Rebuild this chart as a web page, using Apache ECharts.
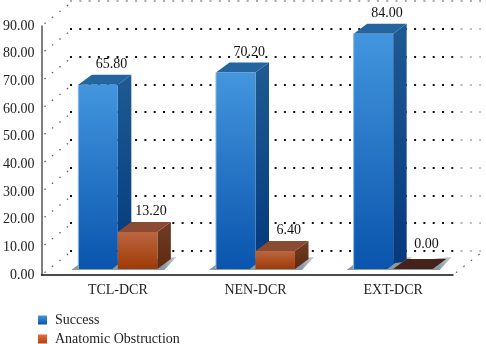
<!DOCTYPE html>
<html>
<head>
<meta charset="utf-8">
<style>html,body{margin:0;padding:0;background:#fff}#c{width:486px;height:344px}</style>
<script src="https://cdn.jsdelivr.net/npm/echarts@6/dist/echarts.min.js"></script>
</head>
<body>
<div id="c"></div>
<script>
const categories = ['TCL-DCR', 'NEN-DCR', 'EXT-DCR'];
const successValues = [65.8, 70.2, 84.0];
const obstructionValues = [13.2, 6.4, 0.0];
const yTicks = [0, 10, 20, 30, 40, 50, 60, 70, 80, 90];

const FONT = '"Liberation Serif", serif';
const grad = (a, b) => new echarts.graphic.LinearGradient(0, 0, 0, 1, [{offset: 0, color: a}, {offset: 1, color: b}]);
const BAR_FRAC = 39.5 / 137.6, DX = 13.5, DY = 10;

const blue = {front: ['#4396de', '#0a54ad'], side: ['#1f5a92', '#04397c'], top: '#24649f', edge: '#8fb8e0'};
const orange = {front: ['#bb6640', '#9f3a06'], side: ['#6f3c26', '#5f2a10'], top: '#8a4b32', edge: null};

function barRenderer(slot, pal) {
  return function (params, api) {
    const val = api.value(1);
    const c = api.coord([api.value(0), val]);
    const base = api.coord([api.value(0), 0]);
    const w = api.size([1, 0])[0] * BAR_FRAC;
    const x0 = c[0] + slot * w, x1 = x0 + w, yt = c[1], yb = base[1];
    const kids = [];
    kids.push({type: 'polygon', shape: {points: [[x0 - 7, yb + 1], [x0 + 2, yb - 6], [x1 + 19, yb - 12], [x1 + 7, yb + 1]]},
      style: {fill: new echarts.graphic.LinearGradient(0, 0, 1, 0, [{offset: 0, color: '#8b98a6'}, {offset: 0.8, color: '#8b98a6'}, {offset: 1, color: '#c9d0d8'}])}});
    if (val > 0) {
      kids.push({type: 'polygon', shape: {points: [[x1, yt], [x1 + DX, yt - DY], [x1 + DX, yb - DY], [x1, yb]]}, style: {fill: grad(pal.side[0], pal.side[1])}});
      kids.push({type: 'polygon', shape: {points: [[x0, yt], [x0 + DX, yt - DY], [x1 + DX, yt - DY], [x1, yt]]}, style: {fill: pal.top}});
      kids.push({type: 'rect', shape: {x: x0, y: yt, width: w, height: yb - yt}, style: {fill: grad(pal.front[0], pal.front[1])}});
      if (pal.edge) kids.push({type: 'line', shape: {x1: x0, y1: yt, x2: x0, y2: yb}, style: {stroke: pal.edge, lineWidth: 1}});
    } else {
      kids.push({type: 'polygon', shape: {points: [[x0, yb], [x0 + DX, yb - DY], [x1 + DX, yb - DY], [x1, yb]]}, style: {fill: '#45231a'}});
    }
    kids.push({type: 'text', style: {text: val.toFixed(2), x: x0 + w / 2 + 13.5, y: yt - DY - (val > 0 ? 10.5 : 15), align: 'center', verticalAlign: 'middle', font: '14px ' + FONT, fill: '#111'}, z2: 50});
    return {type: 'group', children: kids};
  };
}

function wallRenderer(params, api) {
  const p = api.coord([api.value(0), api.value(1)]);
  return {type: 'line', shape: {x1: p[0] + 3, y1: p[1] - 2.4, x2: p[0] + 31, y2: p[1] - 24.5},
    style: {stroke: '#555', lineWidth: 1.2, lineDash: [1.5, 8]}};
}

const fade = c => new echarts.graphic.LinearGradient(0, 0, 486, 0, [
  {offset: 0, color: c}, {offset: 0.93, color: c}, {offset: 0.95, color: '#bbb'}, {offset: 1, color: '#bbb'}], true);
const gridColors = yTicks.map(t => t === 90 ? '#aaa' : fade('#111'));

const chart = echarts.init(document.getElementById('c'), null, {renderer: 'canvas'});
chart.setOption({
  animation: false,
  textStyle: {fontFamily: FONT},
  legend: {
    orient: 'vertical', left: 38, top: 313, height: 60, padding: 0, itemWidth: 9, itemHeight: 9, itemGap: 5,
    icon: 'rect', data: ['Success', 'Anatomic Obstruction'],
    textStyle: {fontFamily: FONT, fontSize: 14, color: '#222', padding: [0, 0, 0, 3]}
  },
  grid: [
    {left: 39, width: 414, top: 26, height: 249},
    {left: 70, width: 411, top: 1, height: 250},
    {left: 49, width: 413, top: 17, height: 252}
  ],
  xAxis: [
    {gridIndex: 0, type: 'value', min: 0, max: 1, axisLine: {onZero: false, lineStyle: {color: '#111', width: 1.5}}, axisTick: {show: false}, axisLabel: {show: false}, splitLine: {show: false}},
    {gridIndex: 1, type: 'value', min: 0, max: 1, show: false},
    {gridIndex: 2, type: 'category', data: categories, axisLine: {show: false}, axisTick: {show: false},
      axisLabel: {margin: 14, fontFamily: FONT, fontSize: 14, color: '#222'}}
  ],
  yAxis: [
    {gridIndex: 0, type: 'value', min: 0, max: 90, interval: 10, axisLine: {show: true, lineStyle: {color: '#555', width: 1.5}}, axisTick: {show: false},
      axisLabel: {margin: 7, fontFamily: FONT, fontSize: 14, color: '#222', formatter: v => v.toFixed(2)}, splitLine: {show: false}},
    {gridIndex: 1, type: 'value', min: 0, max: 90, interval: 10, axisLine: {show: false}, axisTick: {show: false}, axisLabel: {show: false},
      splitLine: {show: true, lineStyle: {color: gridColors, width: 2, type: [2, 7.3]}}},
    {gridIndex: 2, type: 'value', min: 0, max: 90, interval: 10, show: false}
  ],
  series: [
    {type: 'custom', name: 'wall', xAxisIndex: 0, yAxisIndex: 0, silent: true, renderItem: wallRenderer,
      data: yTicks.map(t => [0, t]).concat([[1, 0]]), z: 1},
    {type: 'custom', name: 'Success', xAxisIndex: 2, yAxisIndex: 2, renderItem: barRenderer(-1, blue),
      itemStyle: {color: grad('#4396de', '#0a54ad')},
      data: successValues.map((v, i) => [i, v]), encode: {x: 0, y: 1}, z: 3},
    {type: 'custom', name: 'Anatomic Obstruction', xAxisIndex: 2, yAxisIndex: 2, renderItem: barRenderer(0, orange),
      itemStyle: {color: grad('#e0703c', '#b2400f')},
      data: obstructionValues.map((v, i) => [i, v]), encode: {x: 0, y: 1}, z: 4}
  ]
});
</script>
</body>
</html>
